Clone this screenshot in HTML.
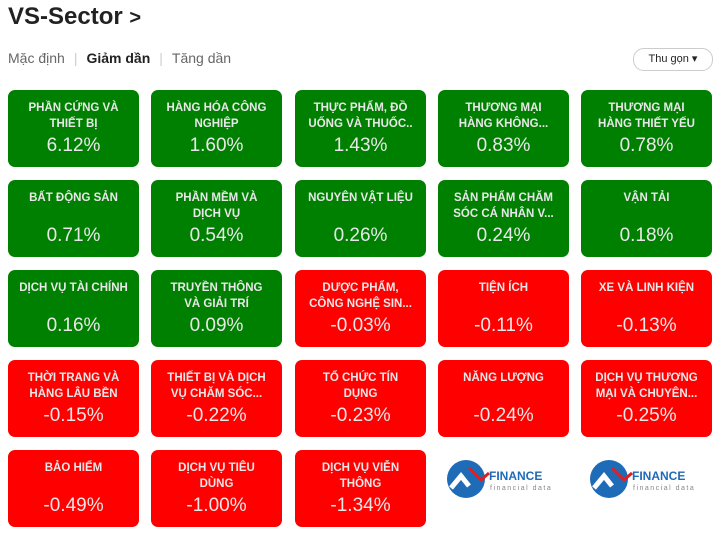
<!DOCTYPE html>
<html><head><meta charset="utf-8"><style>
body{margin:0;width:725px;height:550px;background:#fff;font-family:"Liberation Sans",Arial,sans-serif;position:relative;overflow:hidden}
.t{position:absolute;left:8px;top:3px;font-size:24px;font-weight:bold;color:#222}
.tabs{position:absolute;left:8px;top:50px;font-size:14px;color:#666}
.tabs b{color:#222}
.sep{color:#ccc;margin:0 9px}
.btn{position:absolute;left:633px;top:48px;width:78px;height:21px;border:1px solid #ccc;border-radius:11px;font-size:11px;text-align:center;line-height:21px;color:#222}
.tile{position:absolute;width:131px;height:77px;border-radius:7px;color:#e8e8e8;text-align:center}
.g{background:#008000}.r{background:#ff0000}
.l{position:absolute;left:0;right:0;top:10px;font-size:11.5px;font-weight:bold;line-height:16px;height:32px;white-space:nowrap}
.v{position:absolute;left:0;right:0;top:44px;font-size:19px;line-height:24px}
.logo{position:absolute;width:115px;height:45px}
</style></head><body>
<div class="t">VS-Sector <span style="font-size:20px">&gt;</span></div>
<div class="tabs">Mặc định<span class="sep">|</span><b>Giảm dần</b><span class="sep">|</span>Tăng dần</div>
<div class="btn">Thu gọn ▾</div>

<div class="tile g" style="left:8px;top:90px"><div class="l">PHẦN CỨNG VÀ<br>THIẾT BỊ</div><div class="v">6.12%</div></div>
<div class="tile g" style="left:151px;top:90px"><div class="l">HÀNG HÓA CÔNG<br>NGHIỆP</div><div class="v">1.60%</div></div>
<div class="tile g" style="left:295px;top:90px"><div class="l">THỰC PHẨM, ĐỒ<br>UỐNG VÀ THUỐC..</div><div class="v">1.43%</div></div>
<div class="tile g" style="left:438px;top:90px"><div class="l">THƯƠNG MẠI<br>HÀNG KHÔNG...</div><div class="v">0.83%</div></div>
<div class="tile g" style="left:581px;top:90px"><div class="l">THƯƠNG MẠI<br>HÀNG THIẾT YẾU</div><div class="v">0.78%</div></div>

<div class="tile g" style="left:8px;top:180px"><div class="l">BẤT ĐỘNG SẢN</div><div class="v">0.71%</div></div>
<div class="tile g" style="left:151px;top:180px"><div class="l">PHẦN MỀM VÀ<br>DỊCH VỤ</div><div class="v">0.54%</div></div>
<div class="tile g" style="left:295px;top:180px"><div class="l">NGUYÊN VẬT LIỆU</div><div class="v">0.26%</div></div>
<div class="tile g" style="left:438px;top:180px"><div class="l">SẢN PHẨM CHĂM<br>SÓC CÁ NHÂN V...</div><div class="v">0.24%</div></div>
<div class="tile g" style="left:581px;top:180px"><div class="l">VẬN TẢI</div><div class="v">0.18%</div></div>

<div class="tile g" style="left:8px;top:270px"><div class="l">DỊCH VỤ TÀI CHÍNH</div><div class="v">0.16%</div></div>
<div class="tile g" style="left:151px;top:270px"><div class="l">TRUYỀN THÔNG<br>VÀ GIẢI TRÍ</div><div class="v">0.09%</div></div>
<div class="tile r" style="left:295px;top:270px"><div class="l">DƯỢC PHẨM,<br>CÔNG NGHỆ SIN...</div><div class="v">-0.03%</div></div>
<div class="tile r" style="left:438px;top:270px"><div class="l">TIỆN ÍCH</div><div class="v">-0.11%</div></div>
<div class="tile r" style="left:581px;top:270px"><div class="l">XE VÀ LINH KIỆN</div><div class="v">-0.13%</div></div>

<div class="tile r" style="left:8px;top:360px"><div class="l">THỜI TRANG VÀ<br>HÀNG LÂU BỀN</div><div class="v">-0.15%</div></div>
<div class="tile r" style="left:151px;top:360px"><div class="l">THIẾT BỊ VÀ DỊCH<br>VỤ CHĂM SÓC...</div><div class="v">-0.22%</div></div>
<div class="tile r" style="left:295px;top:360px"><div class="l">TỔ CHỨC TÍN<br>DỤNG</div><div class="v">-0.23%</div></div>
<div class="tile r" style="left:438px;top:360px"><div class="l">NĂNG LƯỢNG</div><div class="v">-0.24%</div></div>
<div class="tile r" style="left:581px;top:360px"><div class="l">DỊCH VỤ THƯƠNG<br>MẠI VÀ CHUYÊN...</div><div class="v">-0.25%</div></div>

<div class="tile r" style="left:8px;top:450px"><div class="l">BẢO HIỂM</div><div class="v">-0.49%</div></div>
<div class="tile r" style="left:151px;top:450px"><div class="l">DỊCH VỤ TIÊU<br>DÙNG</div><div class="v">-1.00%</div></div>
<div class="tile r" style="left:295px;top:450px"><div class="l">DỊCH VỤ VIỄN<br>THÔNG</div><div class="v">-1.34%</div></div>

<svg class="logo" style="left:447px;top:458px" viewBox="0 0 115 45">
<circle cx="19" cy="21" r="19" fill="#1e6bb8"/>
<path d="M4 30 L14 18 L22 28" stroke="#fff" stroke-width="5" fill="none"/>
<path d="M22 10 L34 22 L42 15" stroke="#e02020" stroke-width="3" fill="none"/>
<text x="42" y="22" font-family="Liberation Sans" font-size="12" font-weight="bold" fill="#1e6bb8">FINANCE</text>
<text x="43" y="32" font-family="Liberation Sans" font-size="7" fill="#888" letter-spacing="1.5">financial data</text>
</svg>
<svg class="logo" style="left:590px;top:458px" viewBox="0 0 115 45">
<circle cx="19" cy="21" r="19" fill="#1e6bb8"/>
<path d="M4 30 L14 18 L22 28" stroke="#fff" stroke-width="5" fill="none"/>
<path d="M22 10 L34 22 L42 15" stroke="#e02020" stroke-width="3" fill="none"/>
<text x="42" y="22" font-family="Liberation Sans" font-size="12" font-weight="bold" fill="#1e6bb8">FINANCE</text>
<text x="43" y="32" font-family="Liberation Sans" font-size="7" fill="#888" letter-spacing="1.5">financial data</text>
</svg>
</body></html>
